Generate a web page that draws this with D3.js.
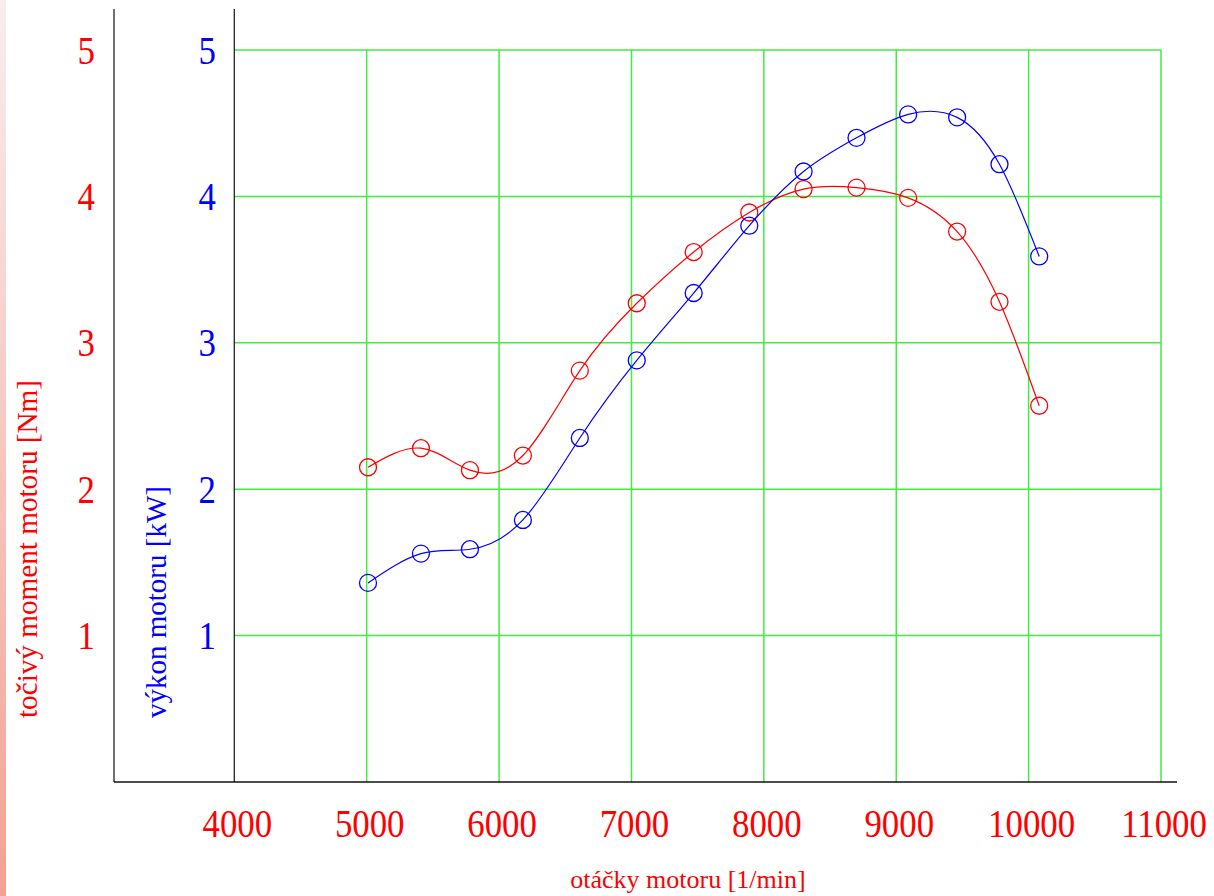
<!DOCTYPE html>
<html>
<head>
<meta charset="utf-8">
<script src="https://cdn.jsdelivr.net/npm/d3@7"></script>
<style>
  body { margin: 0; background: #fff; }
  svg text { font-family: "Liberation Serif", "Times New Roman", serif; }
</style>
</head>
<body>
<script>
// otacky motoru [1/min]
var rpm = [5010, 5410, 5780, 6180, 6610, 7040, 7470, 7890, 8300, 8700, 9090, 9460, 9780, 10080];
// tocivy moment [Nm]
var torque = [2.15, 2.28, 2.13, 2.23, 2.81, 3.27, 3.62, 3.89, 4.05, 4.06, 3.99, 3.76, 3.28, 2.57];
// vykon [kW]
var power = [1.36, 1.56, 1.59, 1.79, 2.35, 2.88, 3.34, 3.80, 4.17, 4.40, 4.56, 4.54, 4.22, 3.59];

var xTicks = [4000, 5000, 6000, 7000, 8000, 9000, 10000, 11000];
var yTicks = [1, 2, 3, 4, 5];

var width = 1214, height = 896;

var svg = d3.select('body').append('svg')
    .attr('width', width)
    .attr('height', height);

// light pink strip on the left edge
var grad = svg.append('defs').append('linearGradient')
    .attr('id', 'strip').attr('x1', 0).attr('y1', 0).attr('x2', 0).attr('y2', 1);
grad.append('stop').attr('offset', '0%').attr('stop-color', '#f9eded');
grad.append('stop').attr('offset', '100%').attr('stop-color', '#f3a193');
svg.append('rect').attr('x', 0).attr('y', 0).attr('width', 6).attr('height', height)
    .attr('fill', 'url(#strip)');

var x = d3.scaleLinear().domain([4000, 11000]).range([234.3, 1161]);
var y = d3.scaleLinear().domain([0, 5]).range([782, 50]);

// grid
svg.selectAll('.vgrid').data(xTicks.slice(1)).enter().append('line')
    .attr('x1', function (d) { return x(d); })
    .attr('x2', function (d) { return x(d); })
    .attr('y1', y(5)).attr('y2', y(0))
    .attr('stroke', '#3fee3f').attr('stroke-width', 1.5);
svg.selectAll('.hgrid').data(yTicks).enter().append('line')
    .attr('x1', x(4000)).attr('x2', x(11000))
    .attr('y1', function (d) { return y(d); })
    .attr('y2', function (d) { return y(d); })
    .attr('stroke', '#3fee3f').attr('stroke-width', 1.5);

// axis lines
svg.append('line').attr('x1', 114).attr('x2', 114).attr('y1', 9).attr('y2', y(0))
    .attr('stroke', '#222').attr('stroke-width', 1.3);
svg.append('line').attr('x1', x(4000)).attr('x2', x(4000)).attr('y1', 9).attr('y2', y(0))
    .attr('stroke', '#222').attr('stroke-width', 1.3);
svg.append('line').attr('x1', 114).attr('x2', 1177).attr('y1', y(0)).attr('y2', y(0))
    .attr('stroke', '#111').attr('stroke-width', 1.5);

// tick labels
svg.selectAll('.xlab').data(xTicks).enter().append('text')
    .attr('transform', function (d) { return 'translate(' + (x(d) + 3) + ',837) scale(0.87,1)'; })
    .attr('text-anchor', 'middle')
    .attr('font-size', 40)
    .attr('fill', 'red')
    .text(function (d) { return d; });

svg.selectAll('.ylabT').data(yTicks).enter().append('text')
    .attr('transform', function (d) { return 'translate(95,' + (y(d) + 13.5) + ') scale(0.87,1)'; })
    .attr('text-anchor', 'end')
    .attr('font-size', 40)
    .attr('fill', 'red')
    .text(function (d) { return d; });

svg.selectAll('.ylabP').data(yTicks).enter().append('text')
    .attr('transform', function (d) { return 'translate(216,' + (y(d) + 13.5) + ') scale(0.87,1)'; })
    .attr('text-anchor', 'end')
    .attr('font-size', 40)
    .attr('fill', 'blue')
    .text(function (d) { return d; });

// axis titles
svg.append('text')
    .attr('transform', 'translate(37,718) rotate(-90)')
    .attr('font-size', 29.2)
    .attr('fill', 'red')
    .text('točivý moment motoru [Nm]');
svg.append('text')
    .attr('transform', 'translate(166,718) rotate(-90)')
    .attr('font-size', 29)
    .attr('fill', 'blue')
    .text('výkon motoru [kW]');
svg.append('text')
    .attr('x', 688).attr('y', 888)
    .attr('text-anchor', 'middle')
    .attr('font-size', 26)
    .attr('fill', 'red')
    .text('otáčky motoru [1/min]');

// curves
function draw_series(vals, color) {
    var pts = rpm.map(function (r, i) { return [r, vals[i]]; });
    var line = d3.line()
        .x(function (d) { return x(d[0]); })
        .y(function (d) { return y(d[1]); })
        .curve(d3.curveNatural);
    svg.append('path').datum(pts)
        .attr('d', line)
        .attr('fill', 'none')
        .attr('stroke', color)
        .attr('stroke-width', 1.2);
    svg.selectAll(null).data(pts).enter().append('circle')
        .attr('cx', function (d) { return x(d[0]); })
        .attr('cy', function (d) { return y(d[1]); })
        .attr('r', 8.5)
        .attr('fill', 'none')
        .attr('stroke', color)
        .attr('stroke-width', 1.3);
}

draw_series(torque, 'red');
draw_series(power, 'blue');
</script>
</body>
</html>
